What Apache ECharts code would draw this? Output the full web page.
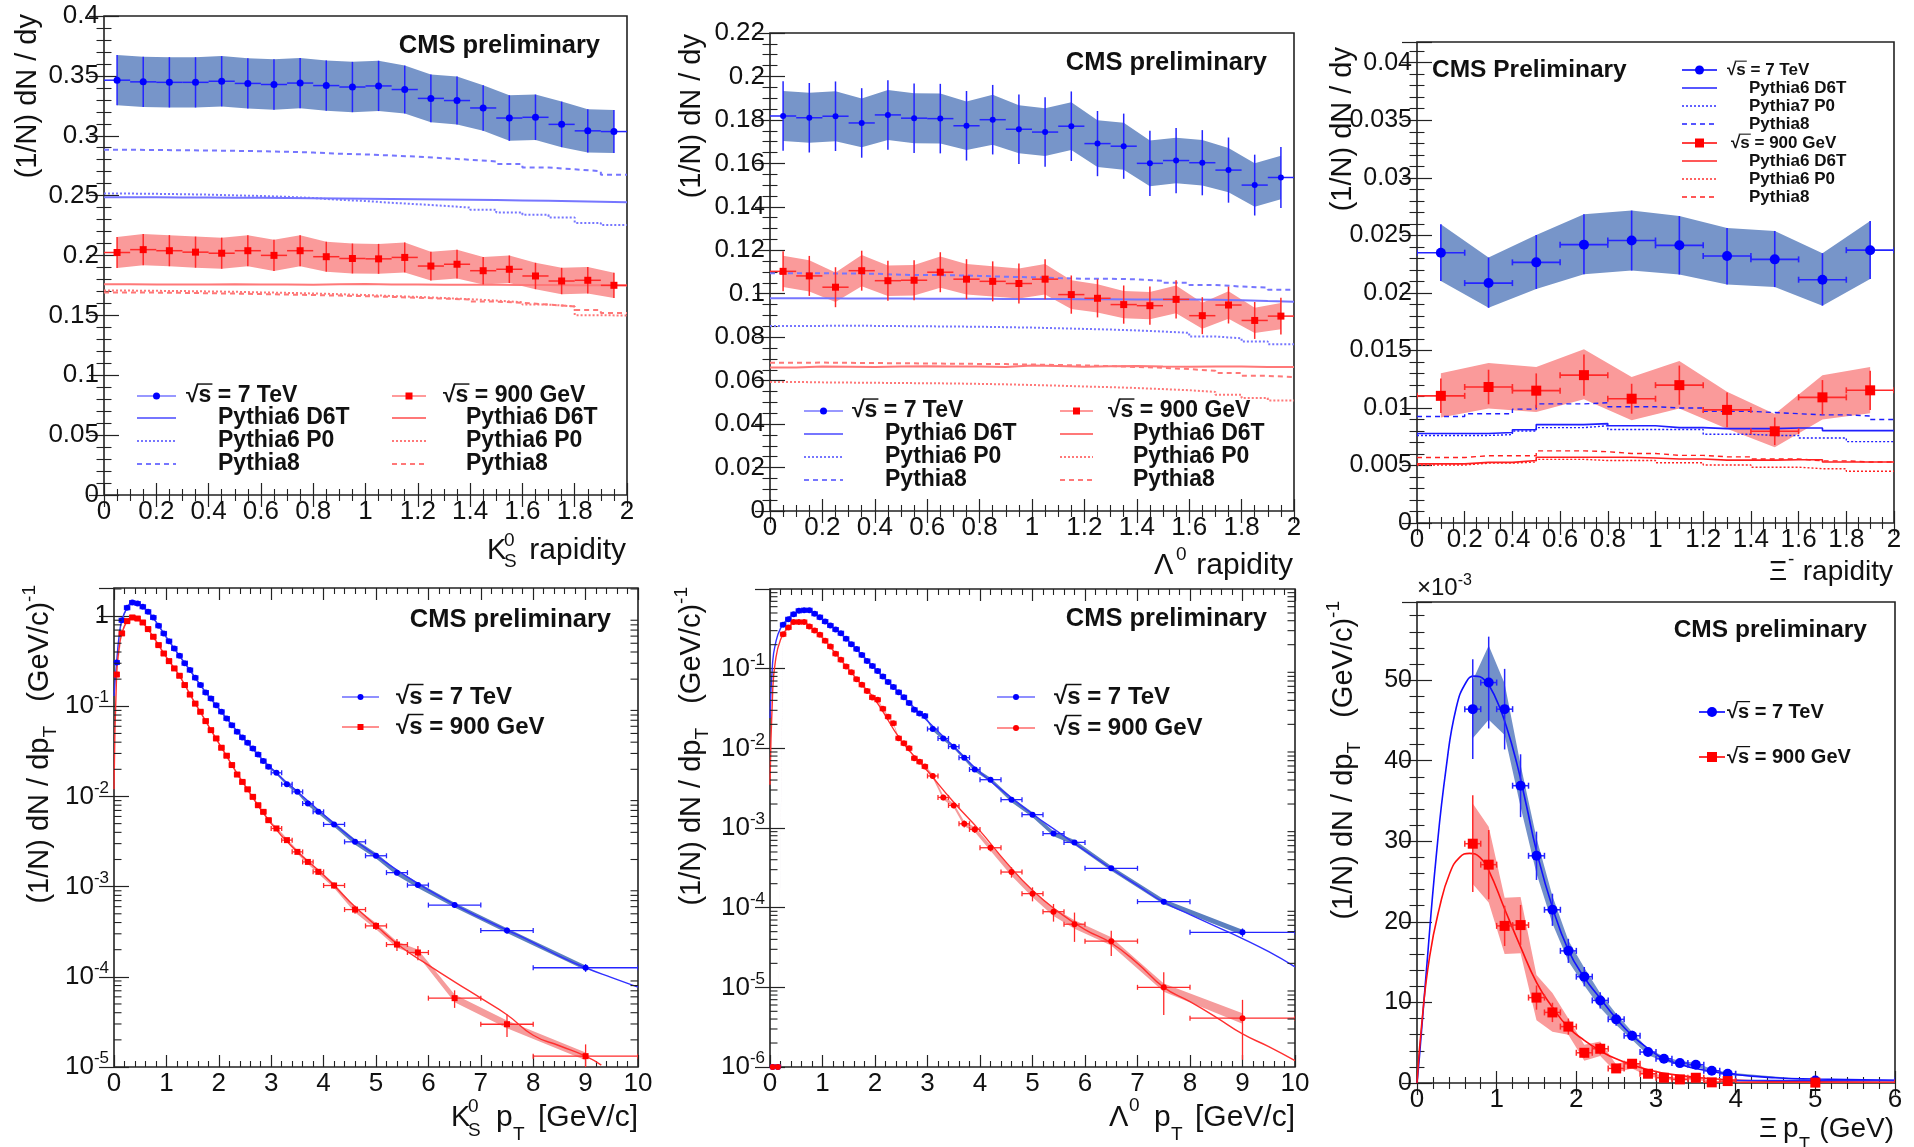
<!DOCTYPE html>
<html><head><meta charset="utf-8">
<script src="https://cdn.jsdelivr.net/npm/echarts@6/dist/echarts.min.js"></script>
<style>html,body{margin:0;padding:0;background:#fff;}#c{width:1914px;height:1147px;}</style>
</head><body><div id="c"></div>
<script>
// ================= DATA =================
// --- rapidity binning ---
const rap20Centers = [0.05,0.15,0.25,0.35,0.45,0.55,0.65,0.75,0.85,0.95,1.05,1.15,1.25,1.35,1.45,1.55,1.65,1.75,1.85,1.95];
const rap20Edges = [0,0.1,0.2,0.3,0.4,0.5,0.6,0.7,0.8,0.9,1.0,1.1,1.2,1.3,1.4,1.5,1.6,1.7,1.8,1.9,2.0];
const rap20HalfWidth = 0.05;
const rap10Centers = [0.1,0.3,0.5,0.7,0.9,1.1,1.3,1.5,1.7,1.9];
const rap10HalfWidth = 0.1;

// --- K0S rapidity ---
const k0RapY7 = [0.3464,0.3450,0.3446,0.3446,0.3455,0.3437,0.3428,0.3440,0.3419,0.3407,0.3416,0.3386,0.3312,0.3294,0.3232,0.3148,0.3154,0.3095,0.3041,0.3035];
const k0RapErr7 = [0.021,0.021,0.021,0.021,0.021,0.021,0.021,0.021,0.021,0.021,0.021,0.020,0.020,0.020,0.019,0.019,0.019,0.019,0.018,0.018];
const k0RapY900 = [0.2025,0.2049,0.2040,0.2028,0.2019,0.2040,0.2001,0.2040,0.1990,0.1975,0.1972,0.1984,0.1912,0.1927,0.1873,0.1885,0.1829,0.1787,0.1793,0.1751];
const k0RapErr900 = [0.013,0.013,0.013,0.013,0.013,0.013,0.013,0.013,0.0125,0.0125,0.0125,0.0125,0.012,0.012,0.0115,0.0115,0.011,0.011,0.011,0.0105];
const k0RapD6T7 = [0.2487,0.2486,0.2485,0.2484,0.2483,0.2482,0.2480,0.2478,0.2476,0.2474,0.2472,0.2470,0.2468,0.2466,0.2463,0.2460,0.2457,0.2453,0.2449,0.2445];
const k0RapP07 = [0.2517,0.2515,0.2512,0.2508,0.2502,0.2497,0.2490,0.2480,0.2465,0.2455,0.2440,0.2428,0.2415,0.2400,0.2383,0.2360,0.2340,0.2317,0.2272,0.2255];
const k0RapPy87 = [0.2883,0.2881,0.2879,0.2877,0.2874,0.2871,0.2866,0.2860,0.2850,0.2844,0.2835,0.2825,0.2812,0.2800,0.2785,0.2765,0.2734,0.2720,0.2704,0.2675];
const k0RapD6T900 = [0.1760,0.1758,0.1757,0.1758,0.1760,0.1758,0.1757,0.1756,0.1759,0.1761,0.1758,0.1757,0.1756,0.1755,0.1756,0.1754,0.1753,0.1752,0.1752,0.1750];
const k0RapP0900 = [0.1707,0.1705,0.1703,0.1700,0.1697,0.1692,0.1688,0.1683,0.1677,0.1670,0.1662,0.1654,0.1645,0.1635,0.1624,0.1610,0.1590,0.1575,0.1502,0.1498];
const k0RapPy8900 = [0.1692,0.1690,0.1688,0.1685,0.1682,0.1678,0.1674,0.1670,0.1665,0.1660,0.1654,0.1647,0.1640,0.1632,0.1615,0.1605,0.1590,0.1575,0.1545,0.1519];

// --- Lambda rapidity ---
const lamRapY7 = [0.1818,0.1810,0.1817,0.1786,0.1823,0.1808,0.1806,0.1773,0.1801,0.1757,0.1744,0.1771,0.1691,0.1679,0.1600,0.1613,0.1603,0.1569,0.1500,0.1535];
const lamRapErr7 = [0.016,0.016,0.016,0.016,0.016,0.016,0.016,0.016,0.016,0.016,0.016,0.016,0.015,0.015,0.015,0.015,0.015,0.015,0.014,0.014];
const lamRapSys7 = [0.0115,0.0115,0.0115,0.0112,0.0115,0.0115,0.0115,0.0112,0.0115,0.011,0.011,0.011,0.0108,0.0108,0.0105,0.0105,0.0105,0.0102,0.010,0.010];
const lamRapY900 = [0.1103,0.1082,0.1030,0.1106,0.1060,0.1062,0.1099,0.1067,0.1057,0.1047,0.1067,0.0996,0.0979,0.0950,0.0945,0.0974,0.0899,0.0948,0.0877,0.0897];
const lamRapErr900 = [0.0092,0.0092,0.0092,0.0092,0.0092,0.0092,0.0092,0.0092,0.0092,0.0092,0.0092,0.0088,0.0088,0.0088,0.0088,0.0088,0.0085,0.0085,0.0085,0.0085];
const lamRapSys900 = [0.0072,0.0072,0.0068,0.0072,0.0070,0.0070,0.0072,0.0070,0.0070,0.0069,0.0070,0.0066,0.0065,0.0063,0.0063,0.0064,0.0060,0.0063,0.0058,0.0060];
const lamRapPy87 = [0.1094,0.1094,0.1093,0.1092,0.1087,0.1086,0.1085,0.1082,0.1078,0.1076,0.1072,0.1069,0.1069,0.1066,0.1060,0.1050,0.1040,0.1033,0.1028,0.1018];
const lamRapD6T7 = [0.0979,0.0979,0.0978,0.0978,0.0978,0.0977,0.0977,0.0977,0.0976,0.0976,0.0976,0.0975,0.0975,0.0974,0.0974,0.0973,0.0972,0.0970,0.0966,0.0963];
const lamRapP07 = [0.0852,0.0852,0.0853,0.0852,0.0851,0.0850,0.0849,0.0848,0.0846,0.0844,0.0841,0.0838,0.0835,0.0831,0.0826,0.0820,0.0803,0.0795,0.0780,0.0768];
const lamRapD6T900 = [0.0660,0.0665,0.0664,0.0663,0.0665,0.0666,0.0665,0.0665,0.0663,0.0670,0.0667,0.0664,0.0666,0.0667,0.0665,0.0664,0.0665,0.0665,0.0663,0.0663];
const lamRapPy8900 = [0.0682,0.0683,0.0682,0.0681,0.0680,0.0679,0.0678,0.0677,0.0676,0.0674,0.0672,0.0670,0.0667,0.0663,0.0659,0.0653,0.0645,0.0635,0.0622,0.0616];
const lamRapP0900 = [0.0594,0.0592,0.0591,0.0590,0.0589,0.0588,0.0587,0.0585,0.0583,0.0580,0.0577,0.0573,0.0570,0.0566,0.0561,0.0556,0.0548,0.0535,0.0520,0.0509];

// --- Xi rapidity ---
const xiRapY7 = [0.02349,0.02085,0.02265,0.02419,0.02455,0.02413,0.0232,0.02291,0.02114,0.02371];
const xiRapHi7 = [0.02596,0.02307,0.02503,0.02683,0.02715,0.02667,0.02564,0.02538,0.02345,0.02625];
const xiRapLo7 = [0.02104,0.0187,0.02034,0.02162,0.02194,0.02159,0.02072,0.0205,0.01889,0.0212];
const xiRapY900 = [0.01105,0.01182,0.0115,0.01285,0.0108,0.01198,0.00983,0.00797,0.01092,0.01153];
const xiRapHi900 = [0.01301,0.01391,0.01356,0.0151,0.01269,0.01407,0.01141,0.00948,0.01285,0.01356];
const xiRapLo900 = [0.00916,0.00996,0.00964,0.01076,0.00893,0.00996,0.00819,0.00659,0.009,0.00954];
const xiRapErr900 = [0.0015,0.0015,0.0015,0.0018,0.0013,0.0017,0.0015,0.0012,0.0015,0.0017];
const xiRapD6T7 = [0.00778,0.00778,0.00778,0.00787,0.0081,0.00855,0.00855,0.00864,0.00845,0.00845,0.00829,0.00829,0.0082,0.0082,0.0082,0.00826,0.00826,0.00803,0.00803,0.00803];
const xiRapP07 = [0.00761,0.00761,0.00761,0.00768,0.008,0.00829,0.00829,0.00845,0.00813,0.00813,0.00813,0.00813,0.00771,0.00771,0.00761,0.00761,0.00739,0.00739,0.00707,0.00707];
const xiRapPy87 = [0.00925,0.00925,0.0095,0.0095,0.0099,0.01035,0.01035,0.01045,0.0101,0.0101,0.01,0.01,0.0097,0.0097,0.0096,0.0095,0.0094,0.0094,0.0093,0.009];
const xiRapD6T900 = [0.00514,0.00514,0.00527,0.00527,0.00543,0.00572,0.00572,0.00572,0.00572,0.00565,0.00556,0.00556,0.00546,0.00546,0.00546,0.0055,0.0055,0.0053,0.0053,0.0053];
const xiRapP0900 = [0.00504,0.00504,0.0052,0.0052,0.0053,0.00553,0.00553,0.00543,0.00543,0.00543,0.00524,0.00524,0.00504,0.00504,0.00485,0.00485,0.00472,0.00472,0.0045,0.0045];
const xiRapPy8900 = [0.00569,0.00569,0.00585,0.00585,0.00585,0.00627,0.00627,0.0062,0.00604,0.00604,0.00588,0.00588,0.00575,0.00575,0.00556,0.00556,0.0054,0.0054,0.0053,0.0053];

// --- pT binning (K0S and Lambda) ---
const ptCenters = [0.05,0.15,0.25,0.35,0.45,0.55,0.65,0.75,0.85,0.95,1.05,1.15,1.25,1.35,1.45,1.55,1.65,1.75,1.85,1.95,2.05,2.15,2.25,2.35,2.45,2.55,2.65,2.75,2.85,2.95,3.1,3.3,3.5,3.7,3.9,4.2,4.6,5.0,5.4,5.8,6.5,7.5,9.0];
const ptHalfWidths = [0.05,0.05,0.05,0.05,0.05,0.05,0.05,0.05,0.05,0.05,0.05,0.05,0.05,0.05,0.05,0.05,0.05,0.05,0.05,0.05,0.05,0.05,0.05,0.05,0.05,0.05,0.05,0.05,0.05,0.05,0.1,0.1,0.1,0.1,0.1,0.2,0.2,0.2,0.2,0.2,0.5,0.5,1.0];

// --- K0S pT ---
const k0Pt7 = [0.306,0.90,1.24,1.42,1.38,1.27,1.12,0.966,0.78,0.643,0.528,0.438,0.363,0.301,0.252,0.207,0.172,0.1425,0.122,0.103,0.0869,0.0733,0.0618,0.0521,0.0451,0.0394,0.034,0.0292,0.0247,0.0213,0.0183,0.0137,0.01125,0.00836,0.00676,0.0049,0.00314,0.0022,0.00143,0.00104,0.000624,0.000326,0.000126];
const k0Pt900 = [0.225,0.643,0.88,0.966,0.94,0.85,0.718,0.59,0.477,0.385,0.317,0.263,0.218,0.172,0.135,0.107,0.0869,0.0685,0.0544,0.044,0.0347,0.0283,0.0223,0.0175,0.0145,0.012,0.0099,0.008,0.00675,0.00546,0.00442,0.00328,0.00243,0.00188,0.00146,0.00103,0.000557,0.000367,0.000228,0.000186,0.000058,0.0000298,0.0000132];
const k0PtRelErr7 = [0.01,0.01,0.01,0.01,0.01,0.01,0.01,0.01,0.01,0.01,0.01,0.01,0.01,0.01,0.01,0.01,0.01,0.01,0.01,0.01,0.01,0.01,0.01,0.01,0.01,0.01,0.01,0.01,0.01,0.01,0.03,0.03,0.03,0.04,0.04,0.04,0.05,0.05,0.06,0.06,0.07,0.08,0.1];
const k0PtRelSys7 = [0.03,0.03,0.03,0.03,0.03,0.03,0.03,0.03,0.03,0.03,0.03,0.03,0.03,0.03,0.03,0.03,0.03,0.03,0.03,0.03,0.03,0.03,0.03,0.03,0.03,0.03,0.03,0.03,0.03,0.03,0.04,0.04,0.04,0.05,0.05,0.06,0.07,0.07,0.07,0.07,0.06,0.06,0.06];
const k0PtRelErr900 = [0.015,0.015,0.015,0.015,0.015,0.015,0.015,0.015,0.015,0.015,0.015,0.015,0.015,0.015,0.015,0.015,0.015,0.015,0.015,0.015,0.015,0.015,0.015,0.015,0.015,0.015,0.015,0.015,0.015,0.015,0.05,0.05,0.06,0.06,0.07,0.08,0.1,0.1,0.15,0.18,0.22,0.28,0.35];
const k0PtRelSys900 = [0.03,0.03,0.03,0.03,0.03,0.03,0.03,0.03,0.03,0.03,0.03,0.03,0.03,0.03,0.03,0.03,0.03,0.03,0.03,0.03,0.03,0.03,0.03,0.03,0.03,0.03,0.03,0.03,0.03,0.03,0.04,0.04,0.05,0.05,0.05,0.06,0.07,0.08,0.08,0.08,0.1,0.1,0.1];
const k0Fit7 = [[0,0.13],[0.05,0.31],[0.1,0.62],[0.15,0.9],[0.25,1.24],[0.35,1.42],[0.45,1.38],[0.6,1.2],[0.8,0.87],[1.0,0.58],[1.25,0.363],[1.5,0.228],[1.75,0.1425],[2.0,0.094],[2.5,0.042],[3.0,0.0205],[3.5,0.0113],[4.0,0.0063],[4.5,0.0036],[5.0,0.00222],[5.5,0.0014],[6.0,0.00092],[6.5,0.00063],[7.0,0.00045],[7.5,0.00033],[8.0,0.00024],[8.5,0.00017],[9.0,0.000126],[9.5,0.000098],[10.0,0.000077]];
const k0Fit900 = [[0,0.012],[0.05,0.225],[0.1,0.45],[0.15,0.643],[0.25,0.88],[0.35,0.966],[0.45,0.94],[0.6,0.78],[0.8,0.53],[1.0,0.35],[1.25,0.218],[1.5,0.121],[1.75,0.0685],[2.0,0.039],[2.5,0.0132],[3.0,0.005],[3.5,0.00243],[4.0,0.00135],[4.5,0.00068],[5.0,0.00037],[5.5,0.00021],[6.0,0.000135],[6.5,0.000088],[7.0,0.000058],[7.5,0.000038],[8.0,0.0000225],[8.5,0.0000172],[9.0,0.0000132],[9.3,0.0000105]];

// --- Lambda pT ---
const lamPt7 = [0.000001,0.000001,0.355,0.418,0.483,0.532,0.543,0.543,0.488,0.443,0.391,0.348,0.31,0.279,0.237,0.203,0.176,0.148,0.125,0.108,0.0938,0.0796,0.0682,0.059,0.0506,0.0438,0.0372,0.0306,0.0273,0.0255,0.0175,0.0133,0.0105,0.00764,0.00543,0.00404,0.00227,0.00147,0.00085,0.00066,0.000312,0.000119,0.000049];
const lamPt900 = [0.000001,0.000001,0.271,0.329,0.384,0.384,0.384,0.338,0.301,0.266,0.2235,0.19,0.1535,0.129,0.1064,0.0903,0.0738,0.0626,0.0526,0.0434,0.0406,0.0313,0.025,0.0207,0.0134,0.0116,0.01,0.0075,0.0068,0.0059,0.0045,0.00242,0.00192,0.00113,0.00096,0.000565,0.00028,0.00015,0.000089,0.000062,0.000038,0.00001,0.0000041];
const lamPtRelErr7 = [0.015,0.015,0.015,0.015,0.015,0.015,0.015,0.015,0.015,0.015,0.015,0.015,0.015,0.015,0.015,0.015,0.015,0.015,0.015,0.015,0.015,0.015,0.015,0.015,0.015,0.015,0.015,0.015,0.015,0.015,0.04,0.04,0.04,0.05,0.05,0.05,0.06,0.06,0.07,0.07,0.06,0.08,0.12];
const lamPtRelSys7 = [0.03,0.03,0.03,0.03,0.03,0.03,0.03,0.03,0.03,0.03,0.03,0.03,0.03,0.03,0.03,0.03,0.03,0.03,0.03,0.03,0.03,0.03,0.03,0.03,0.03,0.03,0.03,0.03,0.03,0.03,0.05,0.05,0.05,0.06,0.06,0.06,0.07,0.07,0.07,0.07,0.07,0.07,0.08];
const lamPtRelErr900 = [0.02,0.02,0.02,0.02,0.02,0.02,0.02,0.02,0.02,0.02,0.02,0.02,0.02,0.02,0.02,0.02,0.02,0.02,0.02,0.02,0.02,0.02,0.02,0.02,0.02,0.02,0.02,0.02,0.02,0.02,0.08,0.08,0.08,0.1,0.1,0.1,0.15,0.2,0.25,0.4,0.35,0.55,0.7];
const lamPtRelSys900 = [0.03,0.03,0.03,0.03,0.03,0.03,0.03,0.03,0.03,0.03,0.03,0.03,0.03,0.03,0.03,0.03,0.03,0.03,0.03,0.03,0.03,0.03,0.03,0.03,0.03,0.03,0.03,0.03,0.03,0.03,0.06,0.06,0.06,0.07,0.07,0.08,0.1,0.1,0.12,0.12,0.12,0.12,0.15];
const lamFit7 = [[0,0.024],[0.05,0.12],[0.1,0.2],[0.2,0.32],[0.35,0.43],[0.5,0.51],[0.7,0.54],[0.9,0.47],[1.1,0.37],[1.4,0.256],[1.7,0.162],[2.0,0.1],[2.5,0.047],[3.0,0.022],[3.5,0.0105],[4.0,0.005],[4.5,0.0027],[5.0,0.0015],[5.5,0.00088],[6.0,0.00052],[6.5,0.00031],[7.0,0.00019],[7.5,0.000117],[8.0,0.000082],[8.5,0.000058],[9.0,0.000041],[9.5,0.000028],[10.0,0.0000181]];
const lamFit900 = [[0,0.0035],[0.05,0.05],[0.1,0.12],[0.2,0.23],[0.35,0.33],[0.5,0.375],[0.65,0.375],[0.8,0.32],[1.0,0.245],[1.2,0.17],[1.45,0.107],[1.7,0.068],[2.0,0.041],[2.5,0.0125],[3.0,0.0052],[3.5,0.0021],[4.0,0.00092],[4.5,0.00037],[5.0,0.000165],[5.5,0.000088],[6.0,0.000053],[6.5,0.000036],[7.0,0.00002],[7.5,0.00001],[8.0,0.0000066],[8.5,0.0000042],[9.0,0.0000026],[9.5,0.0000018],[10.0,0.0000012]];

// --- Xi pT (units of 1e-3) ---
const xiPtX = [0.7,0.9,1.1,1.3,1.5,1.7,1.9,2.1,2.3,2.5,2.7,2.9,3.1,3.3,3.5,3.7,3.9,5.0];
const xiPtHalfW = [0.1,0.1,0.1,0.1,0.1,0.1,0.1,0.1,0.1,0.1,0.1,0.1,0.1,0.1,0.1,0.1,0.1,1.0];
const xiPtY7 = [46.4,49.7,46.4,36.9,28.2,21.5,16.4,13.2,10.25,7.9,5.87,3.84,3.0,2.47,2.27,1.52,1.15,0.32];
const xiPtErr7 = [6.2,5.7,5.0,3.9,3.0,2.0,1.5,1.2,1.0,0.8,0.6,0.5,0.4,0.35,0.3,0.3,0.3,0.2];
const xiPtSys7 = [3.6,4.6,3.2,2.6,2.2,1.7,1.3,1.1,0.9,0.7,0.5,0.4,0.3,0.25,0.25,0.2,0.15,0.05];
const xiPtY900 = [29.7,27.1,19.5,19.6,10.6,8.76,7.0,3.75,4.25,1.81,2.39,1.15,0.65,0.45,0.65,0.08,0.24,0.05];
const xiPtErr900 = [6.0,4.3,2.5,2.5,1.5,1.2,1.0,0.6,0.7,0.4,0.5,0.3,0.3,0.3,0.3,0.2,0.2,0.1];
const xiPtSys900 = [5.0,4.7,3.5,3.5,2.8,2.4,1.0,1.0,0.9,0.5,0.6,0.3,0.2,0.2,0.2,0.1,0.1,0.05];
const xiFit7 = [[0,0],[0.03,3.2],[0.115,13.6],[0.24,28.0],[0.367,39.2],[0.493,46.6],[0.62,49.8],[0.72,50.5],[0.85,50.0],[1.0,47.5],[1.12,44.3],[1.25,39.8],[1.37,34.6],[1.5,28.8],[1.7,21.8],[1.9,16.5],[2.1,13.1],[2.3,10.5],[2.5,8.0],[2.7,5.9],[2.9,4.3],[3.1,3.0],[3.5,1.8],[3.9,1.15],[4.5,0.65],[5.0,0.5],[6.0,0.33]];
const xiFit900 = [[0,0],[0.06,7.4],[0.157,15.6],[0.283,21.8],[0.41,26.0],[0.535,28.0],[0.66,28.5],[0.79,28.0],[0.9,26.4],[1.1,21.6],[1.3,16.9],[1.5,12.5],[1.7,9.4],[1.9,6.9],[2.1,5.3],[2.3,4.0],[2.5,3.0],[2.9,1.65],[3.3,0.94],[3.9,0.4],[5.0,0.15],[6.0,0.1]];

// ================= HELPERS =================
const FONT = '"Liberation Sans", Arial, Helvetica, sans-serif';
const INK = '#111';
const mctx = document.createElement('canvas').getContext('2d');
function textW(s, size, weight) { mctx.font = (weight || 'normal') + ' ' + size + 'px ' + FONT; return mctx.measureText(s).width; }
function pairs(xs, ys) { return xs.map((x, i) => [x, ys[i]]); }
function stepData(edges, vals) { return edges.map((e, i) => [e, vals[Math.min(i, vals.length - 1)]]); }
function addArr(a, b, s) { return a.map((v, i) => v + s * b[i]); }
function addHalf(xs, h, s) { return xs.map((x, i) => x + s * (Array.isArray(h) ? h[i] : h)); }
function relArr(a, r, s) { return a.map((v, i) => v * (1 + s * r[i])); }

function bandSeries(g, xs, lo, hi, color) {
  return {type:'custom', xAxisIndex:2*g, yAxisIndex:2*g, silent:true, clip:true, z:1,
    data: xs.map((x, i) => [x, lo[i], hi[i]]), encode:{x:0, y:[1,2]},
    renderItem: function (params, api) {
      if (params.dataIndexInside !== 0) return null;
      const pts = [];
      for (let i = 0; i < xs.length; i++) pts.push(api.coord([xs[i], hi[i]]));
      for (let i = xs.length - 1; i >= 0; i--) pts.push(api.coord([xs[i], lo[i]]));
      return {type:'polygon', shape:{points:pts}, style:{fill:color}};
    }};
}
function errSeries(g, xs, ys, lo, hi, xlo, xhi, color, lw, cap) {
  return {type:'custom', xAxisIndex:2*g, yAxisIndex:2*g, silent:true, clip:true, z:4,
    data: xs.map((x, i) => [x, ys[i], lo[i], hi[i], xlo[i], xhi[i]]), encode:{x:0, y:1},
    renderItem: function (params, api) {
      const x = api.value(0), y = api.value(1);
      const a = api.coord([api.value(4), y]), b = api.coord([api.value(5), y]);
      const c = api.coord([x, api.value(2)]), d = api.coord([x, api.value(3)]);
      const st = () => ({stroke:color, lineWidth:lw});
      const ch = [
        {type:'line', shape:{x1:a[0], y1:a[1], x2:b[0], y2:b[1]}, style:st()},
        {type:'line', shape:{x1:c[0], y1:c[1], x2:d[0], y2:d[1]}, style:st()}];
      if (cap) {
        ch.push({type:'line', shape:{x1:a[0], y1:a[1]-cap, x2:a[0], y2:a[1]+cap}, style:st()});
        ch.push({type:'line', shape:{x1:b[0], y1:b[1]-cap, x2:b[0], y2:b[1]+cap}, style:st()});
      }
      return {type:'group', children:ch};
    }};
}
function markSeries(g, xs, ys, symbol, size, color) {
  return {type:'scatter', xAxisIndex:2*g, yAxisIndex:2*g, silent:true, z:5, symbol:symbol, symbolSize:size,
    itemStyle:{color:color, opacity:1}, data:pairs(xs, ys), clip:false};
}
function stepSeries(g, edges, vals, color, type, width) {
  return {type:'line', xAxisIndex:2*g, yAxisIndex:2*g, silent:true, z:2, step:'end', symbol:'none', showSymbol:false,
    data:stepData(edges, vals), lineStyle:{color:color, width:width, type:type}};
}
function fitSeries(g, pts, color, width) {
  return {type:'line', xAxisIndex:2*g, yAxisIndex:2*g, silent:true, z:3, smooth:0.5,
    symbol:'none', showSymbol:false, data:pts, lineStyle:{color:color, width:width}};
}
function logMinorSeries(g, vals) {
  return {type:'custom', xAxisIndex:2*g, yAxisIndex:2*g, silent:true, clip:false, z:10,
    data: vals.map(v => [1, v]), encode:{x:0, y:1},
    renderItem: function (params, api) {
      const p = api.coord([api.value(0), api.value(1)]);
      const cs = params.coordSys;
      const st = () => ({stroke:'#222', lineWidth:1.1});
      return {type:'group', children:[
        {type:'line', shape:{x1:cs.x, y1:p[1], x2:cs.x+7.5, y2:p[1]}, style:st()},
        {type:'line', shape:{x1:cs.x+cs.width-7.5, y1:p[1], x2:cs.x+cs.width, y2:p[1]}, style:st()}]};
    }};
}

// axes
function xAxPair(g, min, max, interval, minor) {
  const common = {type:'value', gridIndex:g, min:min, max:max, interval:interval, splitLine:{show:false},
    axisLine:{show:false}, axisTick:{show:true, inside:true, length:12, lineStyle:{color:'#222', width:1.2}},
    minorTick:{show:true, splitNumber:minor, length:6, lineStyle:{color:'#222', width:1.1}}, minorSplitLine:{show:false}};
  return [
    Object.assign({position:'bottom', axisLabel:{show:true, color:INK, fontSize:26, fontFamily:FONT, margin:4, showMinLabel:true, showMaxLabel:true}}, common),
    Object.assign({position:'top', axisLabel:{show:false}}, common)];
}
function yAxPair(g, o) {
  const common = {type:o.type || 'value', gridIndex:g, min:o.min, max:o.max, splitLine:{show:false}, axisLine:{show:false},
    axisTick:{show:true, inside:true, length:15, lineStyle:{color:'#222', width:1.2}},
    minorTick: o.minor ? {show:true, splitNumber:o.minor, length:7.5, lineStyle:{color:'#222', width:1.1}} : {show:false},
    minorSplitLine:{show:false}};
  if (o.interval) common.interval = o.interval;
  if (o.type === 'log') common.logBase = 10;
  const lab = {show:true, color:INK, fontSize:o.fs || 26, fontFamily:FONT, margin:5, showMinLabel:true, showMaxLabel:o.showMax !== false};
  if (o.formatter) lab.formatter = o.formatter;
  if (o.rich) lab.rich = o.rich;
  return [Object.assign({position:'left', axisLabel:lab}, common), Object.assign({position:'right', axisLabel:{show:false}}, common)];
}
function logLabel(v) {
  const e = Math.round(Math.log10(v));
  if (e === 0) return '1';
  return '{b|10}{s|' + e + '}';
}
const logRich = {b:{fontSize:26, fontFamily:FONT, color:INK, lineHeight:34}, s:{fontSize:17, fontFamily:FONT, color:INK, lineHeight:17, verticalAlign:'top'}};

// text helpers
function txt(x, y, text, size, o) {
  o = o || {};
  const st = {text:text, fontSize:size, fontFamily:FONT, fontWeight:o.bold ? 'bold' : 'normal', fill:o.color || INK,
    align:o.align || 'left', verticalAlign:'middle', textAlign:o.align || 'left', textVerticalAlign:'middle'};
  if (o.rich) st.rich = o.rich;
  if (o.lh) st.lineHeight = o.lh;
  return {type:'text', x:x, y:y, rotation:o.rot || 0, silent:true, z:100, style:st};
}
function sqrtOver(tx, y, fs) {
  const w1 = textW('\u221A', fs, 'bold'), w2 = textW('\u221As', fs, 'bold');
  return {type:'line', silent:true, z:100, shape:{x1:tx + w1 - 1.5, y1:y - fs * 0.52, x2:tx + w2 + 1, y2:y - fs * 0.52},
    style:{stroke:INK, lineWidth:Math.max(1, fs / 16)}};
}
function legendBlock(x1, x2, dataTx, mcTx, rows, fs, entries) {
  const els = [];
  entries.forEach((e, i) => {
    const y = rows[i];
    if (e.kind === 'data') {
      els.push({type:'line', silent:true, z:100, shape:{x1:x1, y1:y, x2:x2, y2:y}, style:{stroke:e.lineColor || e.color, lineWidth:1.6}});
      const cx = (x1 + x2) / 2;
      if (e.sym === 'circle') els.push({type:'circle', silent:true, z:101, shape:{cx:cx, cy:y, r:e.msize / 2}, style:{fill:e.color}});
      else els.push({type:'rect', silent:true, z:101, shape:{x:cx - e.msize / 2, y:y - e.msize / 2, width:e.msize, height:e.msize}, style:{fill:e.color}});
      const tx = e.tx || dataTx;
      els.push(txt(tx, y, e.label, fs, {bold:true}));
      els.push(sqrtOver(tx, y, fs));
    } else {
      els.push({type:'line', silent:true, z:100, shape:{x1:x1, y1:y, x2:x2, y2:y}, style:{stroke:e.color, lineWidth:e.lw || 2, lineDash:e.dash || null}});
      els.push(txt(mcTx, y, e.label, fs, {bold:true}));
    }
  });
  return els;
}

// ================= OPTION =================
const BLUE = '#0000ff', RED = '#ff0000';
const BLUE_ERR = '#2525ff', RED_ERR = '#ff2a2a';
const BLUE_BAND = '#7795c9', RED_BAND = '#fa9a9a';
const BLUE_MC = '#7676ff', RED_MC = '#ff7878';
const DOT = [2, 2], DASH = [5, 4];

const grids = [
  {left:104, top:16, width:523, height:479},
  {left:770, top:33, width:524, height:478},
  {left:1417, top:42, width:477, height:481},
  {left:114, top:588, width:524, height:479},
  {left:770, top:589, width:525, height:478},
  {left:1417, top:602, width:478, height:481}
].map(g => Object.assign({show:true, borderColor:'#222', borderWidth:1.6, backgroundColor:'transparent', containLabel:false, outerBoundsMode:'none'}, g));

const xAxis = [].concat(
  xAxPair(0, 0, 2, 0.2, 4), xAxPair(1, 0, 2, 0.2, 4), xAxPair(2, 0, 2, 0.2, 4),
  xAxPair(3, 0, 10, 1, 5), xAxPair(4, 0, 10, 1, 5), xAxPair(5, 0, 6, 1, 5));
const yAxis = [].concat(
  yAxPair(0, {min:0, max:0.4, interval:0.05, minor:5}),
  yAxPair(1, {min:0, max:0.22, interval:0.02, minor:4}),
  yAxPair(2, {min:0, max:0.0418, interval:0.005, minor:5, showMax:false, fs:25}),
  yAxPair(3, {type:'log', min:0.00001, max:2.05, showMax:false, formatter:logLabel, rich:logRich}),
  yAxPair(4, {type:'log', min:0.000001, max:1, showMax:false, formatter:logLabel, rich:logRich}),
  yAxPair(5, {min:0, max:59.7, interval:10, minor:5, showMax:false, fs:25}));

const minorLog4 = [], minorLog5 = [];
for (let e = -5; e <= 0; e++) for (let m = 2; m <= 9; m++) { const v = m * Math.pow(10, e); if (v <= 2.05) minorLog4.push(+v.toPrecision(3)); }
for (let e = -6; e <= -1; e++) for (let m = 2; m <= 9; m++) minorLog5.push(+(m * Math.pow(10, e)).toPrecision(3));

const series = [];
// ---- Panel 1: K0S rapidity ----
series.push(bandSeries(0, rap20Centers, addArr(k0RapY7, k0RapErr7, -1), addArr(k0RapY7, k0RapErr7, 1), BLUE_BAND));
series.push(bandSeries(0, rap20Centers, addArr(k0RapY900, k0RapErr900, -1), addArr(k0RapY900, k0RapErr900, 1), RED_BAND));
series.push(stepSeries(0, rap20Edges, k0RapD6T7, BLUE_MC, 'solid', 2));
series.push(stepSeries(0, rap20Edges, k0RapP07, BLUE_MC, DOT, 2));
series.push(stepSeries(0, rap20Edges, k0RapPy87, BLUE_MC, DASH, 2));
series.push(stepSeries(0, rap20Edges, k0RapD6T900, RED_MC, 'solid', 2));
series.push(stepSeries(0, rap20Edges, k0RapP0900, RED_MC, DOT, 2));
series.push(stepSeries(0, rap20Edges, k0RapPy8900, RED_MC, DASH, 2));
series.push(errSeries(0, rap20Centers, k0RapY7, addArr(k0RapY7, k0RapErr7, -1), addArr(k0RapY7, k0RapErr7, 1), addHalf(rap20Centers, rap20HalfWidth, -1), addHalf(rap20Centers, rap20HalfWidth, 1), BLUE_ERR, 1.5, 0));
series.push(errSeries(0, rap20Centers, k0RapY900, addArr(k0RapY900, k0RapErr900, -1), addArr(k0RapY900, k0RapErr900, 1), addHalf(rap20Centers, rap20HalfWidth, -1), addHalf(rap20Centers, rap20HalfWidth, 1), RED_ERR, 1.5, 0));
series.push(markSeries(0, rap20Centers, k0RapY7, 'circle', 7, BLUE));
series.push(markSeries(0, rap20Centers, k0RapY900, 'rect', 7, RED));

// ---- Panel 2: Lambda rapidity ----
series.push(bandSeries(1, rap20Centers, addArr(lamRapY7, lamRapSys7, -1), addArr(lamRapY7, lamRapSys7, 1), BLUE_BAND));
series.push(bandSeries(1, rap20Centers, addArr(lamRapY900, lamRapSys900, -1), addArr(lamRapY900, lamRapSys900, 1), RED_BAND));
series.push(stepSeries(1, rap20Edges, lamRapD6T7, BLUE_MC, 'solid', 2));
series.push(stepSeries(1, rap20Edges, lamRapP07, BLUE_MC, DOT, 2));
series.push(stepSeries(1, rap20Edges, lamRapPy87, BLUE_MC, DASH, 2));
series.push(stepSeries(1, rap20Edges, lamRapD6T900, RED_MC, 'solid', 2));
series.push(stepSeries(1, rap20Edges, lamRapP0900, RED_MC, DOT, 2));
series.push(stepSeries(1, rap20Edges, lamRapPy8900, RED_MC, DASH, 2));
series.push(errSeries(1, rap20Centers, lamRapY7, addArr(lamRapY7, lamRapErr7, -1), addArr(lamRapY7, lamRapErr7, 1), addHalf(rap20Centers, rap20HalfWidth, -1), addHalf(rap20Centers, rap20HalfWidth, 1), BLUE_ERR, 1.5, 0));
series.push(errSeries(1, rap20Centers, lamRapY900, addArr(lamRapY900, lamRapErr900, -1), addArr(lamRapY900, lamRapErr900, 1), addHalf(rap20Centers, rap20HalfWidth, -1), addHalf(rap20Centers, rap20HalfWidth, 1), RED_ERR, 1.5, 0));
series.push(markSeries(1, rap20Centers, lamRapY7, 'circle', 6, BLUE));
series.push(markSeries(1, rap20Centers, lamRapY900, 'rect', 7, RED));

// ---- Panel 3: Xi rapidity ----
series.push(bandSeries(2, rap10Centers, xiRapLo7, xiRapHi7, BLUE_BAND));
series.push(bandSeries(2, rap10Centers, xiRapLo900, xiRapHi900, RED_BAND));
series.push(stepSeries(2, rap20Edges, xiRapD6T7, '#1f1fff', 'solid', 1.6));
series.push(stepSeries(2, rap20Edges, xiRapP07, '#1f1fff', DOT, 1.4));
series.push(stepSeries(2, rap20Edges, xiRapPy87, '#1f1fff', DASH, 1.4));
series.push(stepSeries(2, rap20Edges, xiRapD6T900, '#ff2020', 'solid', 1.6));
series.push(stepSeries(2, rap20Edges, xiRapP0900, '#ff2020', DOT, 1.4));
series.push(stepSeries(2, rap20Edges, xiRapPy8900, '#ff2020', DASH, 1.4));
series.push(errSeries(2, rap10Centers, xiRapY7, xiRapLo7, xiRapHi7, addHalf(rap10Centers, rap10HalfWidth, -1), addHalf(rap10Centers, rap10HalfWidth, 1), BLUE_ERR, 1.6, 3));
series.push(errSeries(2, rap10Centers, xiRapY900, addArr(xiRapY900, xiRapErr900, -1), addArr(xiRapY900, xiRapErr900, 1), addHalf(rap10Centers, rap10HalfWidth, -1), addHalf(rap10Centers, rap10HalfWidth, 1), RED_ERR, 1.6, 3));
series.push(markSeries(2, rap10Centers, xiRapY7, 'circle', 10, BLUE));
series.push(markSeries(2, rap10Centers, xiRapY900, 'rect', 10, RED));

// ---- Panel 4: K0S pT ----
series.push(bandSeries(3, ptCenters, relArr(k0Pt7, k0PtRelSys7, -1), relArr(k0Pt7, k0PtRelSys7, 1), '#5b7fbf'));
series.push(bandSeries(3, ptCenters, relArr(k0Pt900, k0PtRelSys900, -1), relArr(k0Pt900, k0PtRelSys900, 1), '#f59c9c'));
series.push(fitSeries(3, k0Fit7, '#3030ff', 1.4));
series.push(fitSeries(3, k0Fit900, '#ff3030', 1.4));
series.push(errSeries(3, ptCenters, k0Pt7, relArr(k0Pt7, k0PtRelErr7, -1), relArr(k0Pt7, k0PtRelErr7, 1), addHalf(ptCenters, ptHalfWidths, -1), addHalf(ptCenters, ptHalfWidths, 1), BLUE_ERR, 1.3, 2.5));
series.push(errSeries(3, ptCenters, k0Pt900, relArr(k0Pt900, k0PtRelErr900, -1), relArr(k0Pt900, k0PtRelErr900, 1), addHalf(ptCenters, ptHalfWidths, -1), addHalf(ptCenters, ptHalfWidths, 1), RED_ERR, 1.3, 2.5));
series.push(markSeries(3, ptCenters, k0Pt7, 'circle', 6, BLUE));
series.push(markSeries(3, ptCenters, k0Pt900, 'rect', 6, RED));
series.push(logMinorSeries(3, minorLog4));

// ---- Panel 5: Lambda pT ----
series.push(bandSeries(4, ptCenters, relArr(lamPt7, lamPtRelSys7, -1), relArr(lamPt7, lamPtRelSys7, 1), '#5b7fbf'));
series.push(bandSeries(4, ptCenters, relArr(lamPt900, lamPtRelSys900, -1), relArr(lamPt900, lamPtRelSys900, 1), '#f59c9c'));
series.push(fitSeries(4, lamFit7, '#3030ff', 1.4));
series.push(fitSeries(4, lamFit900, '#ff3030', 1.4));
series.push(errSeries(4, ptCenters, lamPt7, relArr(lamPt7, lamPtRelErr7, -1), relArr(lamPt7, lamPtRelErr7, 1), addHalf(ptCenters, ptHalfWidths, -1), addHalf(ptCenters, ptHalfWidths, 1), BLUE_ERR, 1.3, 2.5));
series.push(errSeries(4, ptCenters, lamPt900, relArr(lamPt900, lamPtRelErr900, -1), relArr(lamPt900, lamPtRelErr900, 1), addHalf(ptCenters, ptHalfWidths, -1), addHalf(ptCenters, ptHalfWidths, 1), RED_ERR, 1.3, 2.5));
series.push(markSeries(4, ptCenters, lamPt7, 'circle', 6, BLUE));
series.push(markSeries(4, ptCenters, lamPt900, 'circle', 6, RED));
series.push(logMinorSeries(4, minorLog5));

// ---- Panel 6: Xi pT ----
series.push(bandSeries(5, xiPtX, addArr(xiPtY7, xiPtSys7, -1), addArr(xiPtY7, xiPtSys7, 1), '#7391c9'));
series.push(bandSeries(5, xiPtX, addArr(xiPtY900, xiPtSys900, -1), addArr(xiPtY900, xiPtSys900, 1), RED_BAND));
series.push(fitSeries(5, xiFit7, '#1010ff', 1.6));
series.push(fitSeries(5, xiFit900, '#ff1010', 1.6));
series.push(errSeries(5, xiPtX, xiPtY7, addArr(xiPtY7, xiPtErr7, -1), addArr(xiPtY7, xiPtErr7, 1), addHalf(xiPtX, xiPtHalfW, -1), addHalf(xiPtX, xiPtHalfW, 1), BLUE_ERR, 1.5, 3));
series.push(errSeries(5, xiPtX, xiPtY900, addArr(xiPtY900, xiPtErr900, -1), addArr(xiPtY900, xiPtErr900, 1), addHalf(xiPtX, xiPtHalfW, -1), addHalf(xiPtX, xiPtHalfW, 1), RED_ERR, 1.5, 3));
series.push(markSeries(5, xiPtX, xiPtY7, 'circle', 10, BLUE));
series.push(markSeries(5, xiPtX, xiPtY900, 'rect', 10, RED));

// ================= TEXT / LEGENDS =================
const S7 = '\u221As = 7 TeV', S900 = '\u221As = 900 GeV';
const g = [];
// CMS labels
g.push(txt(600, 46, 'CMS preliminary', 25.5, {bold:true, align:'right'}));
g.push(txt(1267, 63, 'CMS preliminary', 25.5, {bold:true, align:'right'}));
g.push(txt(1432, 70, 'CMS Preliminary', 24.5, {bold:true}));
g.push(txt(611, 620, 'CMS preliminary', 25.5, {bold:true, align:'right'}));
g.push(txt(1267, 619, 'CMS preliminary', 25.5, {bold:true, align:'right'}));
g.push(txt(1867, 630, 'CMS preliminary', 24.5, {bold:true, align:'right'}));

// Y titles
const yRich = {sub:{fontSize:19, fontFamily:FONT, fill:INK, lineHeight:19, verticalAlign:'bottom'},
               sup:{fontSize:19, fontFamily:FONT, fill:INK, lineHeight:19, verticalAlign:'top'}};
g.push(txt(28, 14, '(1/N) dN / dy', 29, {rot:Math.PI/2, align:'right'}));
g.push(txt(692, 34, '(1/N) dN / dy', 29, {rot:Math.PI/2, align:'right'}));
g.push(txt(1343, 47, '(1/N) dN / dy', 29, {rot:Math.PI/2, align:'right'}));
const ptTitle = '(1/N) dN / dp{sub|T}   (GeV/c){sup|-1}';
g.push(txt(40, 585, ptTitle, 29, {rot:Math.PI/2, align:'right', rich:yRich, lh:40}));
g.push(txt(692, 587, ptTitle, 29, {rot:Math.PI/2, align:'right', rich:yRich, lh:40}));
g.push(txt(1344, 601, ptTitle, 29, {rot:Math.PI/2, align:'right', rich:yRich, lh:40}));
g.push(txt(1417, 588, '\u00D710{s|-3}', 24, {rich:{s:{fontSize:16, fontFamily:FONT, fill:INK, lineHeight:16, verticalAlign:'top'}}, lh:30}));

// X titles
g.push(txt(487, 551, 'K', 29));
g.push(txt(504, 541, '0', 19));
g.push(txt(504, 562, 'S', 19));
g.push(txt(626, 551, 'rapidity', 30, {align:'right'}));
g.push(txt(1154, 566, '\u039B', 29));
g.push(txt(1176, 555, '0', 19));
g.push(txt(1293, 566, 'rapidity', 30, {align:'right'}));
g.push(txt(1769, 572, '\u039E', 28));
g.push(txt(1788, 560, '-', 19));
g.push(txt(1893, 572, 'rapidity', 28, {align:'right'}));
g.push(txt(451, 1118, 'K', 29));
g.push(txt(468, 1107, '0', 19));
g.push(txt(468, 1131, 'S', 19));
g.push(txt(496, 1118, 'p', 30));
g.push(txt(513, 1135, 'T', 19));
g.push(txt(638, 1118, '[GeV/c]', 30, {align:'right'}));
g.push(txt(1109, 1118, '\u039B', 29));
g.push(txt(1129, 1106, '0', 19));
g.push(txt(1154, 1118, 'p', 30));
g.push(txt(1171, 1135, 'T', 19));
g.push(txt(1295, 1118, '[GeV/c]', 30, {align:'right'}));
g.push(txt(1759, 1129, '\u039E', 28));
g.push(txt(1783, 1129, 'p', 28));
g.push(txt(1799, 1145, 'T', 18));
g.push(txt(1894, 1129, '(GeV)', 28, {align:'right'}));

// Legends
const rows1 = [396, 418, 441, 464];
g.push.apply(g, legendBlock(137, 176, 186, 218, rows1, 23, [
  {kind:'data', color:BLUE, lineColor:BLUE_MC, sym:'circle', msize:7, label:S7},
  {kind:'mc', color:BLUE_MC, label:'Pythia6 D6T'},
  {kind:'mc', color:BLUE_MC, dash:DOT, label:'Pythia6 P0'},
  {kind:'mc', color:BLUE_MC, dash:DASH, label:'Pythia8'}]));
g.push.apply(g, legendBlock(392, 426, 443, 466, rows1, 23, [
  {kind:'data', color:RED, lineColor:RED_MC, sym:'rect', msize:7, label:S900},
  {kind:'mc', color:RED_MC, label:'Pythia6 D6T'},
  {kind:'mc', color:RED_MC, dash:DOT, label:'Pythia6 P0'},
  {kind:'mc', color:RED_MC, dash:DASH, label:'Pythia8'}]));
const rows2 = [411, 434, 457, 480];
g.push.apply(g, legendBlock(804, 843, 852, 885, rows2, 23, [
  {kind:'data', color:BLUE, lineColor:BLUE_MC, sym:'circle', msize:7, label:S7},
  {kind:'mc', color:BLUE_MC, label:'Pythia6 D6T'},
  {kind:'mc', color:BLUE_MC, dash:DOT, label:'Pythia6 P0'},
  {kind:'mc', color:BLUE_MC, dash:DASH, label:'Pythia8'}]));
g.push.apply(g, legendBlock(1060, 1093, 1108, 1133, rows2, 23, [
  {kind:'data', color:RED, lineColor:RED_MC, sym:'rect', msize:7, label:S900},
  {kind:'mc', color:RED_MC, label:'Pythia6 D6T'},
  {kind:'mc', color:RED_MC, dash:DOT, label:'Pythia6 P0'},
  {kind:'mc', color:RED_MC, dash:DASH, label:'Pythia8'}]));
g.push.apply(g, legendBlock(1682, 1717, 1727, 1749, [70, 88, 106, 124, 143, 161, 179, 197], 17, [
  {kind:'data', color:BLUE, sym:'circle', msize:9, label:S7},
  {kind:'mc', color:'#1f1fff', lw:1.6, label:'Pythia6 D6T'},
  {kind:'mc', color:'#1f1fff', lw:1.4, dash:DOT, label:'Pythia7 P0'},
  {kind:'mc', color:'#1f1fff', lw:1.4, dash:DASH, label:'Pythia8'},
  {kind:'data', color:RED, sym:'rect', msize:9, label:S900, tx:1731},
  {kind:'mc', color:'#ff2020', lw:1.6, label:'Pythia6 D6T'},
  {kind:'mc', color:'#ff2020', lw:1.4, dash:DOT, label:'Pythia6 P0'},
  {kind:'mc', color:'#ff2020', lw:1.4, dash:DASH, label:'Pythia8'}]));
g.push.apply(g, legendBlock(342, 379, 396, 396, [697, 727], 24, [
  {kind:'data', color:BLUE, lineColor:'#6a6aff', sym:'circle', msize:6, label:S7},
  {kind:'data', color:RED, lineColor:'#ff6a6a', sym:'rect', msize:6, label:S900}]));
g.push.apply(g, legendBlock(997, 1035, 1054, 1054, [697, 728], 24, [
  {kind:'data', color:BLUE, lineColor:'#6a6aff', sym:'circle', msize:6, label:S7},
  {kind:'data', color:RED, lineColor:'#ff6a6a', sym:'circle', msize:6, label:S900}]));
g.push.apply(g, legendBlock(1699, 1725, 1727, 1727, [712, 757], 20, [
  {kind:'data', color:BLUE, sym:'circle', msize:10, label:S7},
  {kind:'data', color:RED, sym:'rect', msize:10, label:S900}]));

const chart = echarts.init(document.getElementById('c'), null, {renderer:'canvas', width:1914, height:1147});
chart.setOption({
  animation:false,
  backgroundColor:'#ffffff',
  textStyle:{fontFamily:FONT},
  grid:grids,
  xAxis:xAxis,
  yAxis:yAxis,
  series:series,
  graphic:{elements:g}
});
</script>
</body></html>
